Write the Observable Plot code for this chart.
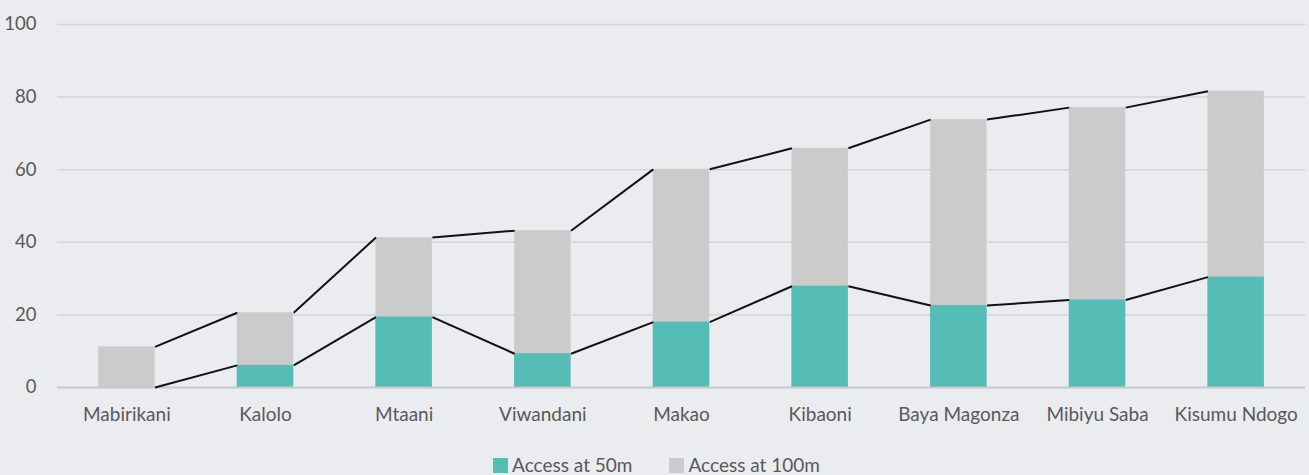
<!DOCTYPE html>
<html>
<head>
<meta charset="utf-8">
<script src="https://cdn.jsdelivr.net/npm/d3@7"></script>
<script src="https://cdn.jsdelivr.net/npm/@observablehq/plot@0.6"></script>
<style>
  html, body { margin: 0; padding: 0; background: #ebecf0; }
  body { width: 1309px; height: 475px; overflow: hidden; font-family: Lato, "Open Sans", sans-serif; }
  #chart svg { display: block; background: #ebecf0; }
  .legend { display: flex; justify-content: center; align-items: center; gap: 37px; margin-top: 7px; font-size: 19px; color: #595959; line-height: 20px; padding-left: 4px; }
  .legend .item { display: flex; align-items: center; gap: 4px; }
  .legend .sw { width: 15px; height: 15px; display: inline-block; }
</style>
</head>
<body>
<div id="chart"></div>
<div class="legend">
  <div class="item"><span class="sw" style="background:#55bdb5"></span><span>Access at 50m</span></div>
  <div class="item"><span class="sw" style="background:#cacbca"></span><span>Access at 100m</span></div>
</div>
<script>
const categories = ["Mabirikani", "Kalolo", "Mtaani", "Viwandani", "Makao", "Kibaoni", "Baya Magonza", "Mibiyu Saba", "Kisumu Ndogo"];
const access50 = [0, 6.1, 19.4, 9.3, 18.0, 27.9, 22.6, 24.1, 30.4];
const access100 = [11.2, 20.6, 41.3, 43.2, 60.1, 65.9, 73.8, 77.1, 81.6];
const yTicks = [0, 20, 40, 60, 80, 100];

const rows = categories.map((c, i) => ({i, c, v50: access50[i], v100: access100[i]}));
const pairs = rows.slice(1).map((b, k) => ({a: rows[k], b}));
const hw = 0.2035;

const chart = Plot.plot({
  width: 1309,
  height: 448,
  marginLeft: 57,
  marginRight: 4,
  marginTop: 24,
  marginBottom: 61,
  style: {background: "#ebecf0", fontFamily: "Lato, 'Open Sans', sans-serif", fontSize: "19px", color: "#595959"},
  x: {domain: [-0.5, categories.length - 0.5]},
  y: {domain: [0, 100]},
  marks: [
    Plot.gridY(yTicks, {stroke: "#d3d4d6", strokeOpacity: 1, strokeWidth: 1.5}),
    Plot.axisY(yTicks, {tickSize: 0, tickPadding: 21, label: null, fontSize: 18.5}),
    Plot.axisX(d3.range(categories.length), {tickFormat: i => categories[i], tickSize: 0, tickPadding: 20, label: null, fontSize: 19}),
    Plot.rect(rows, {x1: d => d.i - hw, x2: d => d.i + hw, y1: 0, y2: "v100", fill: "#cacbca"}),
    Plot.rect(rows, {x1: d => d.i - hw, x2: d => d.i + hw, y1: 0, y2: "v50", fill: "#55bdb5"}),
    Plot.ruleY([0], {stroke: "#c8c9cb", strokeWidth: 2}),
    Plot.link(pairs, {x1: d => d.a.i + hw, y1: d => d.a.v100, x2: d => d.b.i - hw, y2: d => d.b.v100, stroke: "#111", strokeWidth: 2}),
    Plot.link(pairs, {x1: d => d.a.i + hw, y1: d => d.a.v50, x2: d => d.b.i - hw, y2: d => d.b.v50, stroke: "#111", strokeWidth: 2})
  ]
});
document.getElementById("chart").appendChild(chart);
</script>
</body>
</html>
